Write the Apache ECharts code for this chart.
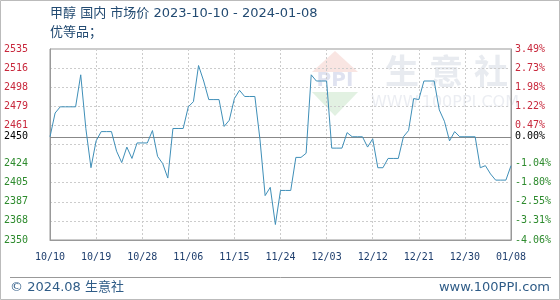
<!DOCTYPE html>
<html>
<head>
<meta charset="utf-8">
<script src="https://cdn.jsdelivr.net/npm/echarts@6/dist/echarts.min.js"></script>
<style>
html,body{margin:0;padding:0;background:#fff;}
#c{width:560px;height:300px;}
</style>
</head>
<body>
<div id="c"></div>
<script>
// ---- data ----
var startDate = '2023-10-10';
var dayCount = 91;
var prices = [
  2450, 2473, 2479, 2479, 2479, 2479, 2510, 2458, 2420, 2446,
  2455, 2455, 2455, 2436, 2425, 2440, 2429, 2444, 2444, 2444,
  2456, 2431, 2424, 2410, 2458, 2458, 2458, 2479, 2484, 2519,
  2504, 2486, 2486, 2486, 2460, 2466, 2487, 2495, 2489, 2489,
  2489, 2447, 2393, 2401, 2365, 2398, 2398, 2398, 2430, 2430,
  2434, 2510, 2504, 2504, 2504, 2439, 2439, 2439, 2454, 2450,
  2450, 2450, 2440, 2448, 2420, 2420, 2429, 2429, 2429, 2450,
  2456, 2487, 2486, 2504, 2504, 2504, 2476, 2465, 2446, 2455,
  2450, 2450, 2450, 2450, 2420, 2422, 2414, 2408, 2408, 2408,
  2422
];
var xTickLabels = ['10/10','10/19','10/28','11/06','11/15','11/24','12/03','12/12','12/21','12/30','01/08'];
var leftLabels = ['2350','2368','2387','2405','2424','','2461','2479','2498','2516','2535'];
var rightLabels = ['-4.06%','-3.31%','-2.55%','-1.80%','-1.04%','','0.47%','1.22%','1.98%','2.73%','3.49%'];
var baseValue = 2450;
var baseLeftLabel = '2450';
var baseRightLabel = '0.00%';
var yMin = 2350, yMax = 2535;

// categories (daily)
var categories = [];
(function(){
  var d = new Date(startDate + 'T00:00:00Z');
  for (var i = 0; i < dayCount; i++) {
    var dd = new Date(d.getTime() + i * 86400000);
    var m = ('0' + (dd.getUTCMonth() + 1)).slice(-2);
    var day = ('0' + dd.getUTCDate()).slice(-2);
    categories.push(m + '/' + day);
  }
})();

var RED = '#c8283c', GREEN = '#2e8b2e', BLACK = '#000';
var MONO = '"DejaVu Sans Mono", monospace';
var SANS = '"DejaVu Sans", "Noto Sans CJK SC", sans-serif';
var WM = 'rgba(205,210,222,0.45)';

function colorize(idx, text) {
  if (!text) return '';
  if (idx > 5) return '{r|' + text + '}';
  if (idx < 5) return '{g|' + text + '}';
  return '{k|' + text + '}';
}
var richStyle = {
  r: {color: RED, fontFamily: MONO, fontSize: 10},
  g: {color: GREEN, fontFamily: MONO, fontSize: 10},
  k: {color: BLACK, fontFamily: MONO, fontSize: 10}
};

var chart = echarts.init(document.getElementById('c'), null, {renderer: 'canvas'});
var option = {
  animation: false,
  backgroundColor: '#fff',
  grid: {left: 50, right: 49, top: 49, bottom: 60, show: true, borderColor: '#999', borderWidth: 1, containLabel: false},
  graphic: [
    {type: 'rect', shape: {x: 0.5, y: 0.5, width: 559, height: 299}, style: {fill: null, stroke: '#bbb', lineWidth: 1}, z: -10, silent: true},
    {type: 'text', left: 50, top: 7, style: {text: '甲醇 国内 市场价 2023-10-10 - 2024-01-08', fill: '#234b72', font: '13px ' + SANS}},
    {type: 'text', left: 50, top: 26, style: {text: '优等品；', fill: '#234b72', font: '13px ' + SANS}},
    {type: 'line', shape: {x1: 10, y1: 277.5, x2: 551, y2: 277.5}, style: {stroke: '#999', lineWidth: 1}, silent: true},
    {type: 'text', left: 10, top: 281, style: {text: '© 2024.08 生意社', fill: '#2f5c87', font: '13px ' + SANS}},
    {type: 'text', right: 10, top: 281, style: {text: 'www.100PPI.com', fill: '#2f5c87', font: '13px ' + SANS}},
    // watermark logo
    {type: 'polygon', shape: {points: [[312, 72], [335, 51], [358, 72]]}, style: {fill: 'rgba(232,150,140,0.25)'}, z: -1, silent: true},
    {type: 'text', x: 335, y: 81, style: {text: 'PPI', fill: 'rgba(140,150,200,0.28)', font: 'bold 20px ' + SANS, align: 'center', verticalAlign: 'middle'}, z: -1, silent: true},
    {type: 'polygon', shape: {points: [[312, 92], [358, 92], [335, 116]]}, style: {fill: 'rgba(140,200,140,0.25)'}, z: -1, silent: true},
    // watermark text
    {type: 'text', x: 402, y: 71, style: {text: '生', fill: WM, font: 'bold 34px "Noto Sans CJK SC", sans-serif', align: 'center', verticalAlign: 'middle'}, z: -1, silent: true},
    {type: 'text', x: 446, y: 71, style: {text: '意', fill: WM, font: 'bold 34px "Noto Sans CJK SC", sans-serif', align: 'center', verticalAlign: 'middle'}, z: -1, silent: true},
    {type: 'text', x: 491, y: 71, style: {text: '社', fill: WM, font: 'bold 34px "Noto Sans CJK SC", sans-serif', align: 'center', verticalAlign: 'middle'}, z: -1, silent: true},
    {type: 'text', x: 445, y: 103, style: {text: 'WWW.100PPI.COM', fill: 'rgba(205,210,222,0.4)', font: '16px ' + SANS, align: 'center', verticalAlign: 'middle'}, z: -1, silent: true}
  ],
  xAxis: {
    type: 'category',
    data: categories,
    boundaryGap: false,
    axisLine: {show: true, lineStyle: {color: '#999'}},
    axisTick: {show: false},
    axisLabel: {
      interval: 8, margin: 12, color: '#1f3f6e', fontFamily: MONO, fontSize: 10,
      formatter: function (v, i) { return xTickLabels[Math.round(i / 9)] || v; }
    },
    splitLine: {show: true, interval: 8, lineStyle: {color: '#ccc', type: [2, 2]}}
  },
  yAxis: [
    {type: 'value', min: yMin, max: yMax, position: 'left', axisLine: {show: false}, axisTick: {show: false}, axisLabel: {show: false}, splitLine: {show: false}},
    {type: 'value', min: 0, max: 10, interval: 1, position: 'left', axisLine: {show: true, lineStyle: {color: '#999'}}, axisTick: {show: false},
      axisLabel: {margin: 22, formatter: function (v) { return colorize(v, leftLabels[v]); }, rich: richStyle},
      splitLine: {show: true, lineStyle: {color: '#ccc', type: [2, 2]}}},
    {type: 'value', min: 0, max: 10, interval: 1, position: 'right', axisLine: {show: true, lineStyle: {color: '#999'}}, axisTick: {show: false},
      axisLabel: {margin: 4, formatter: function (v) { return colorize(v, rightLabels[v]); }, rich: richStyle},
      splitLine: {show: false}}
  ],
  series: [{
    type: 'line',
    yAxisIndex: 0,
    data: prices,
    showSymbol: false,
    symbol: 'none',
    lineStyle: {color: '#3f8fb8', width: 1},
    z: 5,
    markLine: {
      silent: true,
      symbol: 'none',
      animation: false,
      lineStyle: {color: '#888', type: 'solid', width: 1},
      data: [
        {yAxis: baseValue, label: {show: true, position: 'start', distance: 22, formatter: baseLeftLabel, color: BLACK, fontFamily: MONO, fontSize: 10}},
        {yAxis: baseValue, label: {show: true, position: 'end', distance: 4, formatter: baseRightLabel, color: BLACK, fontFamily: MONO, fontSize: 10}}
      ]
    }
  }]
};
chart.setOption(option);
</script>
</body>
</html>
